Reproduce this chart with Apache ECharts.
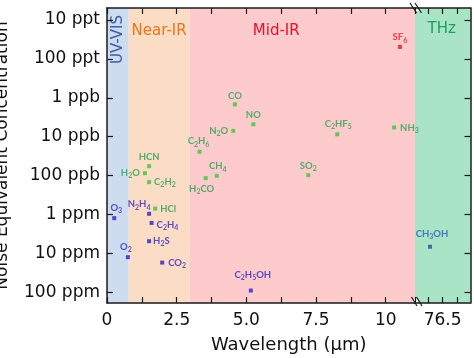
<!DOCTYPE html>
<html><head><meta charset="utf-8">
<script src="https://cdn.jsdelivr.net/npm/echarts@6/dist/echarts.min.js"></script>
<style>html,body{margin:0;padding:0;background:#fff}#c{width:474px;height:358px}</style>
</head><body><div id="c"></div>
<script>
// ---- data ----
const molecules = ['O3','O2','HCN','H2O','C2H2','N2H4','HCl','C2H4','H2S','CO2','CO','NO','N2O','C2H6','CH4','H2CO','SO2','C2HF5','NH3','SF6','C2H5OH','CH3OH'];
const wavelengthUm = [0.26,0.75,1.51,1.36,1.51,1.51,1.73,1.60,1.51,1.98,4.59,5.25,4.53,3.32,3.94,3.54,7.22,8.26,10.30,10.51,5.16,76.07];
const necPpb = [1250,12600,57.5,87,148,966,708,1660,4900,17400,1.48,4.8,7.1,24.5,102,117,98,8.7,5.8,0.049,91000,6800];
const colorGroup = ['b','b','g','g','g','b','g','b','b','b','g','g','g','g','g','g','g','g','g','r','b','c'];
const yTickPpb = [0.01,0.1,1,10,100,1000,10000,100000];
const yTickLabels = ['10 ppt','100 ppt','1 ppb','10 ppb','100 ppb','1 ppm','10 ppm','100 ppm'];
const xTickValues = [0,2.5,5,7.5,10];
const xTickLabels = ['0','2.5','5.0','7.5','10'];
const xBreakTickValues = [76,76.5,77];
const xBreakLabelValues = [76.5];
const xBreakLabels = ['76.5'];
const bandNames = ['UV-VIS','Near-IR','Mid-IR'];
const bandEdges = [0,0.78,2.96,11.05];
const thzRange = [75.56,77.45];

// ---- styles ----
const pointColor = {b:'#2a22c4', g:'#3cc43c', r:'#e8142c', c:'#1d4fae'};
const labelColor = {b:'#3527c2', g:'#2a9f58', r:'#e8142c', c:'#2a5cc0'};
const labelPos = ['top','top','top','left','right','top','right','right','right','right','top','top','left','top','top','bottom','top','top','right','top','top','top'];
const labelOffset = [[2,0],[-2,0],[0,0],[0,0],[0,0],[-10,0],[0,0],[0,2],[0,0],[0,0],[0,0],[0,0],[0,0],[-1,0],[1,0],[-4,0],[0,0],[1,0],[0,0],[0,0],[2,-5],[2,-3]];
const labelDist = [2,2,1,3,3,1,3,3,2,4,0,1,3,2,1,2,1,2,4,1,2,1];
const bandColors = ['#cddcee','#fbdcc4','#fdcbcb'];
const bandTextColors = ['#3f5ea8','#e8761c','#e8112d'];
const axisColor = '#1a1a1a';
const FONT = 'DejaVu Sans';

const yMin = -2.31, yMax = 5.28;
const yTicks = yTickPpb.map(v => Math.log10(v));

function richName(n){
  return n.split(/(\d+)/).filter(Boolean).map(p => /^\d+$/.test(p) ? '{s|'+p+'}' : '{n|'+p+'}').join('');
}
function item(i){
  const g = colorGroup[i];
  return {
    name: molecules[i],
    value: [wavelengthUm[i], Math.log10(necPpb[i])],
    itemStyle: {color: pointColor[g]},
    label: {position: labelPos[i], offset: labelOffset[i], distance: labelDist[i], color: labelColor[g]}
  };
}
const idx = molecules.map((_, i) => i);
const leftData = idx.filter(i => wavelengthUm[i] < thzRange[0]).map(item);
const rightData = idx.filter(i => wavelengthUm[i] >= thzRange[0]).map(item);

const labelCfg = {
  show: true,
  formatter: p => richName(p.name),
  rich: {
    n: {fontFamily: 'Lato', fontWeight: 'bold', fontSize: 9.5, lineHeight: 13},
    s: {fontFamily: 'Lato', fontWeight: 'bold', fontSize: 7, verticalAlign: 'bottom'}
  }
};

const tickStyle = {show: true, inside: true, length: 6, lineStyle: {color: axisColor, width: 1.2}};
const lineStyle = {show: true, onZero: false, lineStyle: {color: axisColor, width: 1.5}};

const bandArea = bandNames.map((nm, k) => {
  const lbl = {show: true, color: bandTextColors[k], fontFamily: FONT, fontSize: 15, position: 'insideTop'};
  if (k === 0) Object.assign(lbl, {rotate: 90, align: 'right', verticalAlign: 'middle', distance: 7});
  if (k === 1) Object.assign(lbl, {distance: 16, offset: [0,0]});
  if (k === 2) Object.assign(lbl, {distance: 16, offset: [-26,0]});
  return [{name: nm, xAxis: bandEdges[k], itemStyle: {color: bandColors[k], opacity: 1}, label: lbl}, {xAxis: bandEdges[k+1]}];
});

const chart = echarts.init(document.getElementById('c'), null, {renderer: 'canvas'});
chart.setOption({
  animation: false,
  backgroundColor: '#fff',
  grid: [
    {left: 107, right: 59, top: 8, bottom: 55, containLabel: false, outerBoundsMode: 'none'},
    {left: 415, right: 3.5, top: 8, bottom: 55, containLabel: false, outerBoundsMode: 'none'}
  ],
  xAxis: [
    {gridIndex: 0, type: 'value', position: 'bottom', min: 0, max: bandEdges[3], interval: 1.25, z: 10,
     axisLine: lineStyle, axisTick: tickStyle, splitLine: {show: false},
     axisLabel: {color: '#111', fontFamily: FONT, fontSize: 17, margin: 9,
       formatter: v => { const k = xTickValues.findIndex(t => Math.abs(t - v) < 1e-6); return k >= 0 ? xTickLabels[k] : ''; }}},
    {gridIndex: 1, type: 'value', position: 'bottom', min: thzRange[0], max: thzRange[1], z: 10,
     axisLine: lineStyle, axisTick: Object.assign({customValues: xBreakTickValues}, tickStyle), splitLine: {show: false},
     axisLabel: {customValues: xBreakLabelValues, color: '#111', fontFamily: FONT, fontSize: 17, margin: 9,
       formatter: v => { const k = xBreakLabelValues.findIndex(t => Math.abs(t - v) < 1e-6); return k >= 0 ? xBreakLabels[k] : ''; }}},
    {gridIndex: 0, type: 'value', position: 'top', min: 0, max: bandEdges[3], interval: 1.25, z: 10,
     axisLine: lineStyle, axisTick: tickStyle, axisLabel: {show: false}, splitLine: {show: false}},
    {gridIndex: 1, type: 'value', position: 'top', min: thzRange[0], max: thzRange[1], z: 10,
     axisLine: lineStyle, axisTick: Object.assign({customValues: xBreakTickValues}, tickStyle), axisLabel: {show: false}, splitLine: {show: false}}
  ],
  yAxis: [
    {gridIndex: 0, type: 'value', inverse: true, min: yMin, max: yMax, position: 'left', z: 10,
     name: 'Noise Equivalent Concentration', nameLocation: 'middle', nameGap: 96,
     nameTextStyle: {fontFamily: FONT, fontSize: 17, color: '#111'},
     axisLine: lineStyle, axisTick: Object.assign({customValues: yTicks}, tickStyle), splitLine: {show: false},
     axisLabel: {customValues: yTicks, color: '#111', fontFamily: FONT, fontSize: 17, margin: 7,
       formatter: v => { const k = yTicks.findIndex(t => Math.abs(t - v) < 1e-6); return k >= 0 ? yTickLabels[k] : ''; }}},
    {gridIndex: 1, type: 'value', inverse: true, min: yMin, max: yMax, position: 'right', z: 10,
     axisLine: lineStyle, axisTick: Object.assign({customValues: yTicks}, tickStyle), splitLine: {show: false},
     axisLabel: {show: false}}
  ],
  series: [
    {type: 'scatter', xAxisIndex: 0, yAxisIndex: 0, symbol: 'rect', symbolSize: 4, data: leftData, label: labelCfg,
     markArea: {silent: true, data: bandArea}, z: 3},
    {type: 'scatter', xAxisIndex: 1, yAxisIndex: 1, symbol: 'rect', symbolSize: 4, data: rightData, label: labelCfg,
     markArea: {silent: true, data: [[{name: 'THz', xAxis: thzRange[0], itemStyle: {color: '#a8e4c5', opacity: 1},
       label: {show: true, position: 'insideTop', distance: 14, offset: [-1,0], color: '#1f9e5e', fontFamily: FONT, fontSize: 15}},
       {xAxis: thzRange[1]}]]}, z: 3}
  ],
  graphic: [
    {type: 'text', x: 288.7, y: 345, z: 10, style: {text: 'Wavelength (µm)', fontFamily: FONT, fontSize: 18, fill: '#111', align: 'center', verticalAlign: 'middle'}},
    {type: 'polygon', z: 10, shape: {points: [[412,299],[417,299],[420,306],[415,306]]}, style: {fill: '#fff'}},
    {type: 'polygon', z: 10, shape: {points: [[410,5],[415,5],[419,11],[414,11]]}, style: {fill: '#fff'}},
    {type: 'line', z: 11, shape: {x1: 411.5, y1: 297, x2: 417, y2: 306}, style: {stroke: axisColor, lineWidth: 1.2}},
    {type: 'line', z: 11, shape: {x1: 416.5, y1: 297, x2: 422, y2: 306}, style: {stroke: axisColor, lineWidth: 1.2}},
    {type: 'line', z: 11, shape: {x1: 410, y1: 3, x2: 416.5, y2: 13}, style: {stroke: axisColor, lineWidth: 1.2}},
    {type: 'line', z: 11, shape: {x1: 415, y1: 3, x2: 421.5, y2: 13}, style: {stroke: axisColor, lineWidth: 1.2}}
  ]
});
</script></body></html>
